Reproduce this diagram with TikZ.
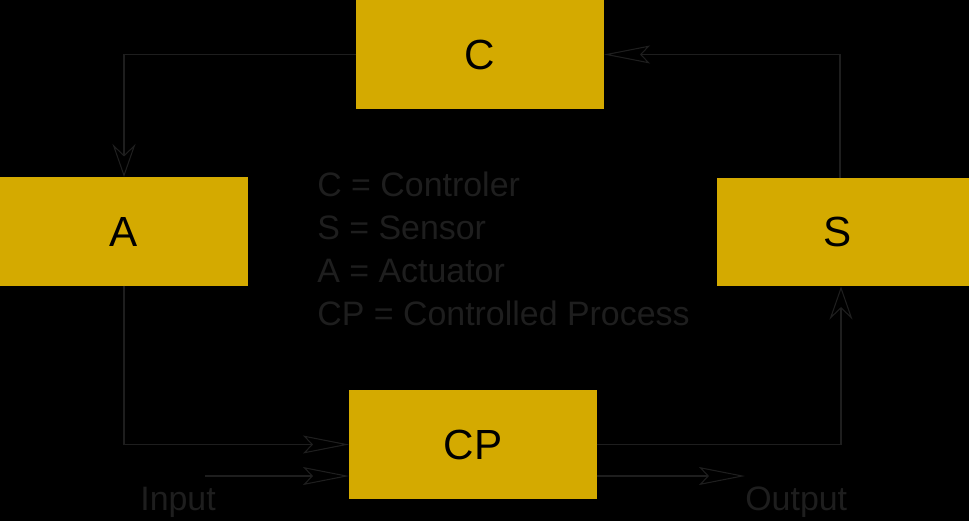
\documentclass[tikz,border=0pt]{standalone}
\usepackage{fontspec}
\setmainfont{Liberation Sans}
\usetikzlibrary{arrows.meta,positioning}
\definecolor{blockgold}{RGB}{212,170,0}
\definecolor{wiregray}{RGB}{30,30,30}

\begin{document}
\begin{tikzpicture}[x=0.02cm, y=-0.02cm,
  block/.style={fill=blockgold, inner sep=0pt, outer sep=0pt, minimum width=4.96cm, minimum height=2.18cm, font=\fontsize{24}{28}\selectfont},
  note/.style={text=wiregray, inner sep=0pt, font=\fontsize{19.3}{24.4}\selectfont},
  arrlong/.style={draw=wiregray, line width=0.6pt, -{Stealth[open, length=0.92cm, width=0.36cm, inset=0.17cm]}},
  arrshort/.style={draw=wiregray, line width=0.6pt, -{Stealth[open, length=0.66cm, width=0.46cm, inset=0.22cm]}}]
\fill[black] (0,0) rectangle (969,521);
\useasboundingbox (0,0) rectangle (969,521);
\node[block] (C) at (480,54.5) {C};
\node[block] (A) at (124,231.5) {A};
\node[block, minimum width=5.04cm] (S) at (843,232) {\hspace*{-0.2cm}S};
\node[block] (CP) at (473,444.5) {CP};
\node[note, align=left, anchor=north west] (legend) at (317,172) {C = Controler\\S = Sensor\\A = Actuator\\CP = Controlled Process};
\coordinate (in) at (205,476);
\coordinate (out) at (745,476);
\node[note, anchor=base west] (inlabel) at (140,510) {Input};
\node[note, anchor=base west] (outlabel) at (745,510) {Output};
% loop
\draw[arrshort] (C.west) -| (A.north);
\draw[arrlong] (A.south) |- (CP.west);
\draw[arrshort] (CP.east) -| ([xshift=-0.04cm]S.south);
\draw[arrlong] ([xshift=-0.06cm]S.north) |- (C.east);
% process in and out
\draw[arrlong] (in) -- (in -| CP.west);
\draw[arrlong] (out -| CP.east) -- (out);
\end{tikzpicture}
\end{document}
